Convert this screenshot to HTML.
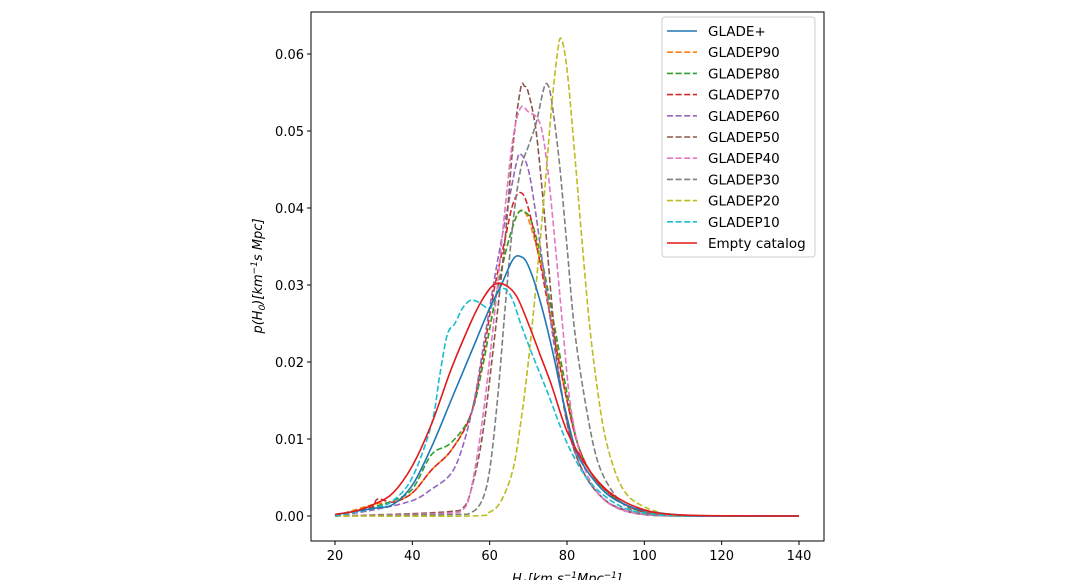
<!DOCTYPE html>
<html><head><meta charset="utf-8"><style>
html,body{margin:0;padding:0;background:#fff;}
svg{display:block;font-family:"DejaVu Sans","Liberation Sans",sans-serif;}
</style></head><body>
<svg id="s" width="1068" height="580" viewBox="0 0 1068 580" xmlns="http://www.w3.org/2000/svg">
<rect width="1068" height="580" fill="#fff"/>
<g id="curves"></g>
<rect x="311" y="12" width="513" height="529" fill="none" stroke="#000" stroke-width="1"/>
<g id="ticks" font-size="13" fill="#000"></g>
<text transform="translate(262,276) rotate(-90)" text-anchor="middle" font-size="13" font-style="italic">p(H<tspan font-size="9" dy="3">0</tspan><tspan dy="-3">)[km</tspan><tspan font-size="9" dy="-5">−1</tspan><tspan dy="5">s Mpc]</tspan></text>
<text x="567" y="583" text-anchor="middle" font-size="13" font-style="italic">H<tspan font-size="9" dy="3">0</tspan><tspan dy="-3">[km s</tspan><tspan font-size="9" dy="-5">−1</tspan><tspan dy="5">Mpc</tspan><tspan font-size="9" dy="-5">−1</tspan><tspan dy="5">]</tspan></text>
<g id="legend"></g>
</svg>
<script>
var X=function(h){return 335+(h-20)*464/120;};
var Y=function(p){return 516-p*7700;};
var ns="http://www.w3.org/2000/svg";
function el(t,a,par){var e=document.createElementNS(ns,t);for(var k in a)e.setAttribute(k,a[k]);if(par)par.appendChild(e);return e;}
var tk=document.getElementById('ticks');
[20,40,60,80,100,120,140].forEach(function(v){var x=X(v);el('line',{x1:x,x2:x,y1:541,y2:545,stroke:'#000'},tk);var t=el('text',{x:x,y:560,'text-anchor':'middle'},tk);t.textContent=v;});
[0,0.01,0.02,0.03,0.04,0.05,0.06].forEach(function(v){var y=Y(v);el('line',{x1:307,x2:311,y1:y,y2:y,stroke:'#000'},tk);var t=el('text',{x:304,y:y+5,'text-anchor':'end'},tk);t.textContent=v.toFixed(2);});
var base=[[20,0],[30,0.0015],[35,0.0018],[40,0.003],[45,0.006],[50,0.0085],[55,0.013],[58,0.019],[61,0.027],[64,0.034],[67,0.039],[69,0.0395],[71,0.037],[74,0.031],[77,0.023],[80,0.015],[83,0.009],[87,0.005],[92,0.0025],[97,0.001],[102,0.0003],[110,0],[140,0]];
var S=[
["GLADEP90","#ff7f0e",1,base],
["GLADEP80","#2ca02c",1,[[20,0],[30,0.0012],[35,0.002],[40,0.0035],[45,0.008],[50,0.0095],[55,0.013],[58,0.019],[61,0.027],[64,0.034],[67,0.039],[69,0.0395],[71,0.038],[74,0.032],[77,0.024],[80,0.016],[83,0.009],[87,0.005],[92,0.0025],[97,0.001],[102,0.0003],[110,0],[140,0]]],
["GLADEP70","#d62728",1,[[20,0],[29,0.001],[31,0.0022],[35,0.0018],[40,0.003],[45,0.006],[50,0.0085],[55,0.013],[58,0.02],[61,0.029],[64,0.036],[66,0.0405],[68,0.042],[70,0.040],[73,0.033],[76,0.025],[80,0.015],[83,0.009],[87,0.005],[92,0.0025],[97,0.001],[102,0.0003],[110,0],[140,0]]],
["GLADEP60","#9467bd",1,[[20,0],[30,0.0008],[40,0.002],[45,0.0035],[50,0.0055],[53,0.009],[56,0.015],[59,0.024],[62,0.033],[65,0.041],[67,0.046],[68,0.047],[70,0.045],[72,0.039],[75,0.028],[78,0.018],[81,0.010],[85,0.005],[90,0.002],[95,0.0008],[100,0.0002],[110,0],[140,0]]],
["GLADEP50","#8c564b",1,[[20,0],[40,0.0003],[50,0.0006],[53,0.001],[55,0.003],[58,0.01],[61,0.022],[64,0.036],[66,0.048],[68,0.0555],[69,0.0558],[70,0.055],[72,0.050],[74,0.040],[76,0.028],[78,0.018],[81,0.010],[85,0.005],[90,0.002],[95,0.0007],[100,0.0002],[110,0],[140,0]]],
["GLADEP40","#e377c2",1,[[20,0],[40,0.0002],[50,0.0004],[53,0.0008],[55,0.003],[58,0.012],[61,0.025],[64,0.040],[66,0.049],[68,0.053],[70,0.0525],[73,0.051],[75,0.045],[77,0.035],[79,0.024],[81,0.014],[84,0.007],[88,0.003],[93,0.001],[100,0.0002],[110,0],[140,0]]],
["GLADEP30","#7f7f7f",1,[[20,0],[50,0.0002],[55,0.0004],[58,0.002],[60,0.006],[62,0.015],[64,0.027],[66,0.038],[68,0.045],[70,0.048],[72,0.051],[74,0.0555],[75,0.056],[76,0.054],[78,0.046],[80,0.035],[82,0.024],[85,0.014],[88,0.007],[92,0.003],[96,0.001],[100,0.0003],[110,0],[140,0]]],
["GLADEP20","#bcbd22",1,[[20,0],[55,0],[60,0.0005],[63,0.002],[66,0.006],[68,0.012],[70,0.02],[72,0.030],[74,0.041],[76,0.053],[77.5,0.060],[78.5,0.062],[80,0.058],[82,0.047],[84,0.035],[86,0.024],[88,0.016],[90,0.010],[93,0.005],[96,0.0025],[100,0.0012],[105,0.0003],[110,0],[140,0]]],
["GLADEP10","#17becf",1,[[20,0],[30,0.001],[35,0.002],[40,0.005],[45,0.012],[47,0.018],[49,0.0235],[51,0.025],[53,0.027],[55,0.028],[57,0.0278],[60,0.027],[62,0.029],[64,0.0295],[66,0.028],[68,0.025],[71,0.021],[75,0.016],[80,0.0095],[85,0.005],[90,0.0025],[95,0.001],[100,0.0004],[110,0],[140,0]]],
["GLADE+","#1f77b4",0,[[20,0.0002],[30,0.001],[35,0.0015],[40,0.004],[45,0.009],[50,0.015],[55,0.021],[60,0.027],[63,0.030],[66,0.0333],[68,0.0337],[70,0.0325],[73,0.028],[76,0.022],[79,0.015],[82,0.009],[85,0.006],[90,0.003],[95,0.0015],[100,0.0007],[110,0.0001],[120,0],[140,0]]],
["Empty catalog","#e31a1c",0,[[20,0.0002],[25,0.0006],[30,0.0015],[35,0.003],[40,0.0065],[45,0.012],[50,0.019],[55,0.025],[58,0.028],[61,0.030],[64,0.030],[67,0.0285],[70,0.025],[73,0.021],[76,0.017],[80,0.011],[85,0.0065],[90,0.0035],[95,0.0018],[100,0.0008],[105,0.0003],[115,0.00005],[140,0]]]
];
function smooth(pts){var P=pts.map(function(p){return [X(p[0]),Y(p[1])];});var d='M'+P[0][0].toFixed(1)+','+P[0][1].toFixed(1);
for(var i=0;i<P.length-1;i++){var p0=P[i-1]||P[i],p1=P[i],p2=P[i+1],p3=P[i+2]||P[i+1];
var c1x=p1[0]+(p2[0]-p0[0])/6,c1y=p1[1]+(p2[1]-p0[1])/6,c2x=p2[0]-(p3[0]-p1[0])/6,c2y=p2[1]-(p3[1]-p1[1])/6;
c1y=Math.min(c1y,516.5);c2y=Math.min(c2y,516.5);
d+='C'+c1x.toFixed(1)+','+c1y.toFixed(1)+' '+c2x.toFixed(1)+','+c2y.toFixed(1)+' '+p2[0].toFixed(1)+','+p2[1].toFixed(1);}return d;}
var cg=document.getElementById('curves');
S.forEach(function(s){
var a={d:smooth(s[3]),fill:'none',stroke:s[1],'stroke-width':1.6,'stroke-linejoin':'round'};if(s[2])a['stroke-dasharray']='6,2.6';el('path',a,cg);});
var lg=document.getElementById('legend');
el('rect',{x:662,y:17,width:153,height:240,rx:3,fill:'#fff','fill-opacity':0.85,stroke:'#ccc'},lg);
var order=["GLADE+","GLADEP90","GLADEP80","GLADEP70","GLADEP60","GLADEP50","GLADEP40","GLADEP30","GLADEP20","GLADEP10","Empty catalog"];
order.forEach(function(n,i){var s=S.filter(function(q){return q[0]==n;})[0];var y=31+i*21.2;
var a={x1:667,x2:697,y1:y,y2:y,stroke:s[1],'stroke-width':1.6};if(s[2])a['stroke-dasharray']='6,2.6';el('line',a,lg);
var t=el('text',{x:708,y:y+5,'font-size':13.5},lg);t.textContent=n;});
</script>
</body></html>
